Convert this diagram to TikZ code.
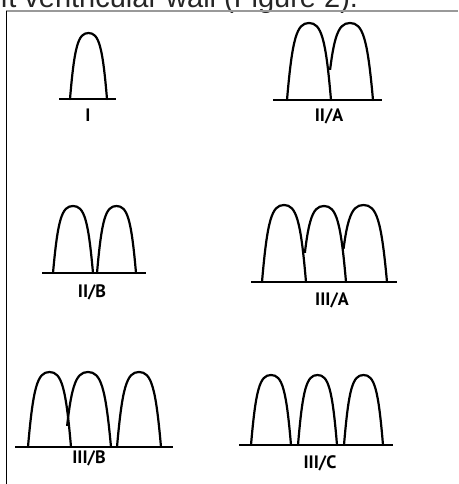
\documentclass[tikz,border=0pt]{standalone}
\usepackage{fontspec}
\setmainfont{Liberation Sans}
\newfontfamily\labfont{PT Sans}
\tikzset{
  archline/.style={line width=2.2pt, line cap=round, line join=round},
  baseline/.style={line width=2pt},
  lab/.style={font=\labfont\bfseries\fontsize{18}{18}\selectfont, inner sep=0pt},
}
% #1 left foot x, #2 right foot x, #3 base y, #4 top y
\newcommand\archfull[4]{%
  \draw[archline] (#1,#3) .. controls ({#1+0.12*(#2-#1)},{#3+0.8*(#4-#3)}) and ({#1+0.22*(#2-#1)},#4) .. ({(#1+#2)/2},#4)
    .. controls ({#2-0.22*(#2-#1)},#4) and ({#2-0.12*(#2-#1)},{#3+0.8*(#4-#3)}) .. (#2,#3);}
% same, left leg cut at height #5
\newcommand\archcut[5]{%
  \begin{scope}
    \clip ({#1-8},{#4-8}) rectangle ({(#1+#2)/2},#5);
    \draw[archline] (#1,#3) .. controls ({#1+0.12*(#2-#1)},{#3+0.8*(#4-#3)}) and ({#1+0.22*(#2-#1)},#4) .. ({(#1+#2)/2},#4);
  \end{scope}
  \draw[archline] ({(#1+#2)/2},#4) .. controls ({#2-0.22*(#2-#1)},#4) and ({#2-0.12*(#2-#1)},{#3+0.8*(#4-#3)}) .. (#2,#3);}
\begin{document}
\begin{tikzpicture}[x=1pt,y=-1pt]
  \useasboundingbox (0,0) rectangle (458,484);
  \fill[white] (0,0) rectangle (458,484);
  \clip (0,0) rectangle (458,484);
  % cropped page text and frame
  \node[anchor=base west, inner sep=0pt, text=black!85, font=\fontsize{29}{34}\selectfont] (toptext) at (-22.5,7.5) {left ventricular wall (Figure 2).};
  \draw[black!40, line width=2pt] (6,11) -- (458,11);
  \draw[black, line width=1.5pt] (6.5,11) -- (6.5,484);

  % I
  \draw[baseline] (59,99) -- (116,99);
  \archfull{70}{107}{99}{33}
  \node[lab] (labI) at (88,115) {I};

  % II/A
  \draw[baseline] (273,100) -- (382,100);
  \archfull{287}{331}{100}{23}
  \archcut{327}{373}{100}{23}{70}
  \node[lab] (labIIA) at (329,116) {II/A};

  % II/B
  \draw[baseline] (42,273) -- (146,273);
  \archfull{53}{93}{273}{206}
  \archfull{97}{136}{273}{206}
  \node[lab] (labIIB) at (92,292) {II/B};

  % III/A
  \draw[baseline] (251,282) -- (397,282);
  \archfull{262}{306}{282}{205}
  \archcut{302}{346}{282}{206}{252}
  \archcut{340}{387}{282}{205}{248}
  \node[lab] (labIIIA) at (332,300) {III/A};

  % III/B
  \draw[baseline] (15,447) -- (173,447);
  \archfull{28}{71}{447}{372}
  \archcut{65}{111}{447}{372}{425}
  \archfull{117}{161}{447}{372}
  \node[lab] (labIIIB) at (89,458.5) {III/B};

  % III/C
  \draw[baseline] (239,445) -- (393,445);
  \archfull{251}{291}{445}{375}
  \archfull{298}{337}{445}{375}
  \archfull{344}{383}{445}{375}
  \node[lab] (labIIIC) at (320,463) {III/C};
\end{tikzpicture}
\end{document}
